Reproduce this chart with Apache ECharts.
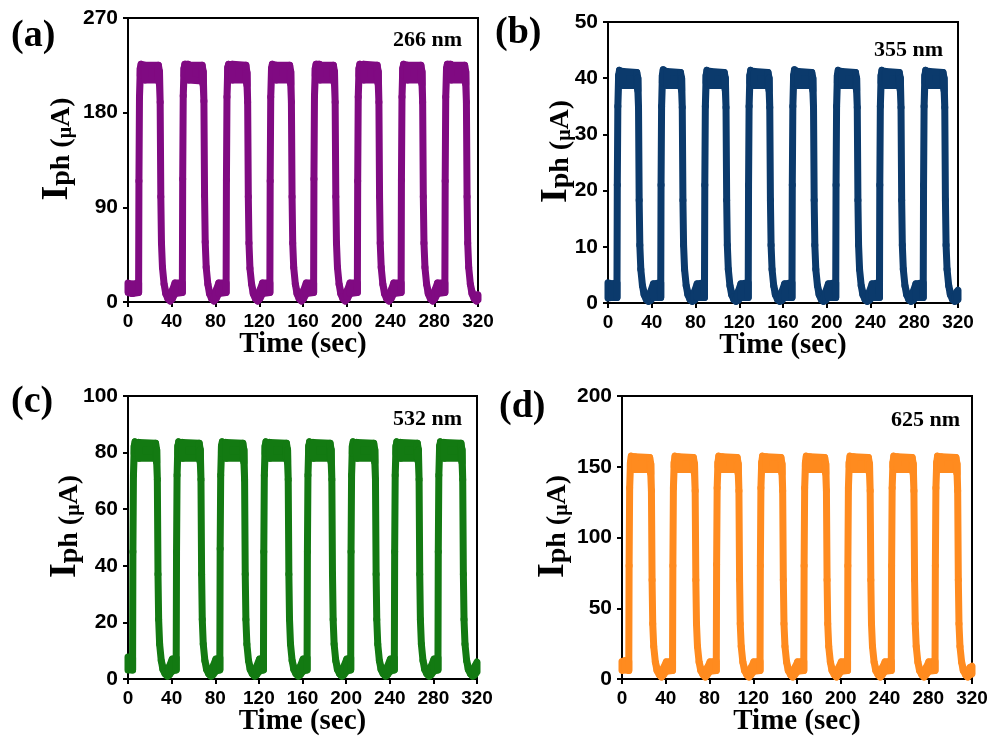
<!DOCTYPE html>
<html>
<head>
<meta charset="utf-8">
<script src="https://cdn.jsdelivr.net/npm/echarts@6/dist/echarts.min.js"></script>
<style>
  html, body { margin: 0; padding: 0; background: #fff; }
  #chart { width: 991px; height: 740px; }
</style>
</head>
<body>
<div id="chart"></div>
<script>
// 四个波长下的光电流开关响应：每个点为 [时间(s), 噪声带上沿, 噪声带下沿]
const panelLetters = ['(a)', '(b)', '(c)', '(d)']
const wavelengths = ['266 nm', '355 nm', '532 nm', '625 nm']
const timeTicks = [0, 320, 40]
const yMax = [270, 50, 100, 200]
const yStep = [90, 10, 20, 50]

const trace266 = [
  [0, 18, 9], [4, 17, 8],
  [9.7, 18, 9], [10, 115, 115], [10.5, 195, 195], [11.2, 222, 215], [12, 226, 216], [15, 225, 216], [15.4, 225, 211], [27.8, 225, 211], [28.8, 219, 207], [29.4, 190, 190], [30, 100, 100], [30.6, 56, 56], [31.5, 33, 33], [33, 17, 17], [34.5, 10, 8], [36.5, 5, 3], [38.5, 3, 1], [40.5, 11, 3], [43, 18, 8],
  [49.7, 18, 9], [50, 117, 117], [50.5, 196, 196], [51.2, 222, 215], [52, 226, 216], [55, 226, 216], [55.4, 225, 211], [67.8, 225, 210], [68.8, 219, 206], [69.4, 191, 191], [70, 101, 101], [70.6, 57, 57], [71.5, 33, 33], [73, 17, 17], [74.5, 10, 8], [76.5, 5, 3], [78.5, 3, 1], [80.5, 11, 3], [83, 18, 8],
  [89.7, 18, 9], [90, 116, 116], [90.5, 195, 195], [91.2, 223, 215], [92, 226, 216], [95, 225, 216], [95.4, 226, 211], [107.8, 225, 211], [108.8, 218, 206], [109.4, 190, 190], [110, 100, 100], [110.6, 56, 56], [111.5, 32, 32], [113, 17, 17], [114.5, 10, 8], [116.5, 5, 3], [118.5, 3, 1], [120.5, 11, 3], [123, 18, 8],
  [129.7, 18, 9], [130, 115, 115], [130.5, 195, 195], [131.2, 222, 215], [132, 226, 216], [135, 225, 216], [135.4, 225, 211], [147.8, 225, 211], [148.8, 219, 207], [149.4, 190, 190], [150, 100, 100], [150.6, 56, 56], [151.5, 33, 33], [153, 17, 17], [154.5, 10, 8], [156.5, 5, 3], [158.5, 3, 1], [160.5, 11, 3], [163, 18, 8],
  [169.7, 18, 9], [170, 117, 117], [170.5, 196, 196], [171.2, 222, 215], [172, 226, 216], [175, 226, 216], [175.4, 225, 211], [187.8, 225, 211], [188.8, 219, 207], [189.4, 190, 190], [190, 100, 100], [190.6, 56, 56], [191.5, 33, 33], [193, 17, 17], [194.5, 10, 8], [196.5, 5, 3], [198.5, 3, 1], [200.5, 11, 3], [203, 18, 8],
  [209.7, 18, 9], [210, 115, 115], [210.5, 195, 195], [211.2, 222, 215], [212, 226, 216], [215, 225, 216], [215.4, 226, 211], [227.8, 225, 211], [228.8, 219, 207], [229.4, 190, 190], [230, 100, 100], [230.6, 56, 56], [231.5, 33, 33], [233, 17, 17], [234.5, 10, 8], [236.5, 5, 3], [238.5, 3, 1], [240.5, 11, 3], [243, 18, 8],
  [249.7, 18, 9], [250, 116, 116], [250.5, 195, 195], [251.2, 222, 215], [252, 226, 216], [255, 225, 216], [255.4, 225, 211], [267.8, 225, 211], [268.8, 219, 207], [269.4, 190, 190], [270, 100, 100], [270.6, 56, 56], [271.5, 33, 33], [273, 17, 17], [274.5, 10, 8], [276.5, 5, 3], [278.5, 3, 1], [280.5, 11, 3], [283, 18, 8],
  [289.7, 18, 9], [290, 115, 115], [290.5, 195, 195], [291.2, 222, 215], [292, 226, 216], [295, 226, 216], [295.4, 225, 211], [307.8, 225, 211], [308.8, 219, 207], [309.4, 190, 190], [310, 100, 100], [310.6, 56, 56], [311.5, 33, 33], [313, 17, 17], [314.5, 10, 8], [316.5, 5, 3], [318.5, 3, 1], [320, 7, 2]
]

const trace355 = [
  [0, 3.6, 0.9], [4, 3.4, 1.0],
  [8.2, 3.6, 1.0], [8.5, 21, 21], [9, 35, 35], [9.7, 40.5, 39.2], [10.5, 41.4, 39.4], [13.5, 41.0, 39.3], [13.9, 41.2, 38.7], [26.3, 41.0, 38.7], [27.3, 40.0, 37.8], [27.9, 34.8, 34.8], [28.5, 18.3, 18.3], [29.1, 10.3, 10.3], [30, 6.0, 6.0], [31.5, 3.1, 3.1], [33, 1.9, 1.5], [35, 1.1, 0.6], [37, 0.8, 0.3], [39, 2.0, 0.5], [41.5, 3.4, 1.0],
  [48.2, 3.6, 1.0], [48.5, 21, 21], [49, 35, 35], [49.7, 40.5, 39.2], [50.5, 41.5, 39.4], [53.5, 41.0, 39.3], [53.9, 41.2, 38.7], [66.3, 41.0, 38.7], [67.3, 40.0, 37.8], [67.9, 34.8, 34.8], [68.5, 18.3, 18.3], [69.1, 10.3, 10.3], [70, 6.0, 6.0], [71.5, 3.1, 3.1], [73, 1.9, 1.5], [75, 1.1, 0.6], [77, 0.8, 0.3], [79, 2.0, 0.5], [81.5, 3.4, 1.0],
  [88.2, 3.6, 1.0], [88.5, 21, 21], [89, 35, 35], [89.7, 40.5, 39.2], [90.5, 41.4, 39.4], [93.5, 41.1, 39.3], [93.9, 41.2, 38.7], [106.3, 41.0, 38.7], [107.3, 40.0, 37.8], [107.9, 34.8, 34.8], [108.5, 18.3, 18.3], [109.1, 10.3, 10.3], [110, 6.0, 6.0], [111.5, 3.1, 3.1], [113, 1.9, 1.5], [115, 1.1, 0.6], [117, 0.8, 0.3], [119, 2.0, 0.5], [121.5, 3.4, 1.0],
  [128.2, 3.6, 1.0], [128.5, 21, 21], [129, 35, 35], [129.7, 40.5, 39.2], [130.5, 41.4, 39.4], [133.5, 41.0, 39.3], [133.9, 41.2, 38.7], [146.3, 41.0, 38.7], [147.3, 40.0, 37.8], [147.9, 34.8, 34.8], [148.5, 18.3, 18.3], [149.1, 10.3, 10.3], [150, 6.0, 6.0], [151.5, 3.1, 3.1], [153, 1.9, 1.5], [155, 1.1, 0.6], [157, 0.8, 0.3], [159, 2.0, 0.5], [161.5, 3.4, 1.0],
  [168.2, 3.6, 1.0], [168.5, 21, 21], [169, 35, 35], [169.7, 40.5, 39.2], [170.5, 41.5, 39.4], [173.5, 41.0, 39.3], [173.9, 41.2, 38.7], [186.3, 41.0, 38.7], [187.3, 40.0, 37.8], [187.9, 34.8, 34.8], [188.5, 18.3, 18.3], [189.1, 10.3, 10.3], [190, 6.0, 6.0], [191.5, 3.1, 3.1], [193, 1.9, 1.5], [195, 1.1, 0.6], [197, 0.8, 0.3], [199, 2.0, 0.5], [201.5, 3.4, 1.0],
  [208.2, 3.6, 1.0], [208.5, 21, 21], [209, 35, 35], [209.7, 40.5, 39.2], [210.5, 41.4, 39.4], [213.5, 41.0, 39.3], [213.9, 41.2, 38.7], [226.3, 41.0, 38.7], [227.3, 40.0, 37.8], [227.9, 34.8, 34.8], [228.5, 18.3, 18.3], [229.1, 10.3, 10.3], [230, 6.0, 6.0], [231.5, 3.1, 3.1], [233, 1.9, 1.5], [235, 1.1, 0.6], [237, 0.8, 0.3], [239, 2.0, 0.5], [241.5, 3.4, 1.0],
  [248.2, 3.6, 1.0], [248.5, 21, 21], [249, 35, 35], [249.7, 40.5, 39.2], [250.5, 41.4, 39.4], [253.5, 41.0, 39.3], [253.9, 41.2, 38.7], [266.3, 41.0, 38.7], [267.3, 40.0, 37.8], [267.9, 34.8, 34.8], [268.5, 18.3, 18.3], [269.1, 10.3, 10.3], [270, 6.0, 6.0], [271.5, 3.1, 3.1], [273, 1.9, 1.5], [275, 1.1, 0.6], [277, 0.8, 0.3], [279, 2.0, 0.5], [281.5, 3.4, 1.0],
  [288.2, 3.6, 1.0], [288.5, 21, 21], [289, 35, 35], [289.7, 40.5, 39.2], [290.5, 41.4, 39.4], [293.5, 41.0, 39.3], [293.9, 41.2, 38.7], [306.3, 41.0, 38.7], [307.3, 40.0, 37.8], [307.9, 34.8, 34.8], [308.5, 18.3, 18.3], [309.1, 10.3, 10.3], [310, 6.0, 6.0], [311.5, 3.1, 3.1], [313, 1.9, 1.5], [315, 1.1, 0.6], [317, 0.8, 0.3], [319, 2.0, 0.5], [320, 2.3, 0.6]
]

const trace532 = [
  [0, 7.8, 3.2],
  [4.2, 7.5, 3.2], [4.5, 45, 45], [5, 72, 72], [5.7, 82.3, 79.7], [6.5, 83.8, 79.7], [9.5, 83.3, 79.7], [9.9, 83.6, 78], [25.3, 83.3, 78], [26.3, 81, 76.5], [26.9, 70.5, 70.5], [27.5, 37, 37], [28.1, 21, 21], [29, 12.3, 12.3], [30.5, 6.5, 6.5], [32, 4.2, 3.4], [34, 2.6, 1.8], [36, 2, 1], [38, 4.5, 1.5], [40.5, 7, 2.8],
  [44.2, 7.5, 3.2], [44.5, 45, 45], [45, 72, 72], [45.7, 82.3, 79.7], [46.5, 83.8, 79.7], [49.5, 83.3, 79.7], [49.9, 83.6, 78], [65.3, 83.3, 78], [66.3, 81, 76.5], [66.9, 70.5, 70.5], [67.5, 37, 37], [68.1, 21, 21], [69, 12.3, 12.3], [70.5, 6.5, 6.5], [72, 4.2, 3.4], [74, 2.6, 1.8], [76, 2, 1], [78, 4.5, 1.5], [80.5, 7, 2.8],
  [84.2, 7.5, 3.2], [84.5, 46, 46], [85, 72, 72], [85.7, 82.3, 79.7], [86.5, 83.8, 79.7], [89.5, 83.3, 79.7], [89.9, 83.6, 78], [105.3, 83.3, 78], [106.3, 81, 76.5], [106.9, 70.5, 70.5], [107.5, 37, 37], [108.1, 21, 21], [109, 12.3, 12.3], [110.5, 6.5, 6.5], [112, 4.2, 3.4], [114, 2.6, 1.8], [116, 2, 1], [118, 4.5, 1.5], [120.5, 7, 2.8],
  [124.2, 7.5, 3.2], [124.5, 45, 45], [125, 72, 72], [125.7, 82.3, 79.7], [126.5, 83.8, 79.7], [129.5, 83.3, 79.7], [129.9, 83.6, 78], [145.3, 83.3, 78], [146.3, 81, 76.5], [146.9, 70.5, 70.5], [147.5, 37, 37], [148.1, 21, 21], [149, 12.3, 12.3], [150.5, 6.5, 6.5], [152, 4.2, 3.4], [154, 2.6, 1.8], [156, 2, 1], [158, 4.5, 1.5], [160.5, 7, 2.8],
  [164.2, 7.5, 3.2], [164.5, 45, 45], [165, 72, 72], [165.7, 82.3, 79.7], [166.5, 83.8, 79.7], [169.5, 83.3, 79.7], [169.9, 83.6, 78], [185.3, 83.3, 78], [186.3, 81, 76.5], [186.9, 70.5, 70.5], [187.5, 37, 37], [188.1, 21, 21], [189, 12.3, 12.3], [190.5, 6.5, 6.5], [192, 4.2, 3.4], [194, 2.6, 1.8], [196, 2, 1], [198, 4.5, 1.5], [200.5, 7, 2.8],
  [204.2, 7.5, 3.2], [204.5, 45, 45], [205, 72, 72], [205.7, 82.3, 79.7], [206.5, 83.8, 79.7], [209.5, 83.3, 79.7], [209.9, 83.6, 78], [225.3, 83.3, 78], [226.3, 81, 76.5], [226.9, 70.5, 70.5], [227.5, 37, 37], [228.1, 21, 21], [229, 12.3, 12.3], [230.5, 6.5, 6.5], [232, 4.2, 3.4], [234, 2.6, 1.8], [236, 2, 1], [238, 4.5, 1.5], [240.5, 7, 2.8],
  [244.2, 7.5, 3.2], [244.5, 45, 45], [245, 72, 72], [245.7, 82.3, 79.7], [246.5, 83.8, 79.7], [249.5, 83.3, 79.7], [249.9, 83.6, 78], [265.3, 83.3, 78], [266.3, 81, 76.5], [266.9, 70.5, 70.5], [267.5, 37, 37], [268.1, 21, 21], [269, 12.3, 12.3], [270.5, 6.5, 6.5], [272, 4.2, 3.4], [274, 2.6, 1.8], [276, 2, 1], [278, 4.5, 1.5], [280.5, 7, 2.8],
  [284.2, 7.5, 3.2], [284.5, 45, 45], [285, 72, 72], [285.7, 82.3, 79.7], [286.5, 83.8, 79.7], [289.5, 83.3, 79.7], [289.9, 83.6, 78], [305.3, 83.3, 78], [306.3, 81, 76.5], [306.9, 70.5, 70.5], [307.5, 37, 37], [308.1, 21, 21], [309, 12.3, 12.3], [310.5, 6.5, 6.5], [312, 4.2, 3.4], [314, 2.6, 1.8], [316, 2, 1], [318, 4.5, 1.5], [320, 6, 2.5]
]

const trace625 = [
  [0, 12.5, 6], [3, 13, 6.5],
  [6.2, 12.5, 6], [6.5, 80, 80], [7, 135, 135], [7.7, 153, 150], [8.5, 157.5, 150.5], [11.5, 156.5, 150.5], [11.9, 157, 148], [25.3, 156.5, 148], [26.3, 152, 145], [26.9, 133, 133], [27.5, 70, 70], [28.1, 39, 39], [29, 23, 23], [30.5, 12, 12], [32, 7.5, 6], [34, 4.5, 3], [36, 3, 1.5], [38, 8, 3], [40.5, 12, 5.5],
  [46.2, 12.5, 6], [46.5, 80, 80], [47, 135, 135], [47.7, 153, 150], [48.5, 157.5, 150.5], [51.5, 156.5, 150.5], [51.9, 157, 148], [65.3, 156.5, 148], [66.3, 152, 145], [66.9, 133, 133], [67.5, 70, 70], [68.1, 39, 39], [69, 23, 23], [70.5, 12, 12], [72, 7.5, 6], [74, 4.5, 3], [76, 3, 1.5], [78, 8, 3], [80.5, 12, 5.5],
  [86.2, 12.5, 6], [86.5, 81, 81], [87, 135, 135], [87.7, 153, 150], [88.5, 157.5, 150.5], [91.5, 156.5, 150.5], [91.9, 157, 148], [105.3, 156.5, 148], [106.3, 152, 145], [106.9, 133, 133], [107.5, 70, 70], [108.1, 39, 39], [109, 23, 23], [110.5, 12, 12], [112, 7.5, 6], [114, 4.5, 3], [116, 3, 1.5], [118, 8, 3], [120.5, 12, 5.5],
  [126.2, 12.5, 6], [126.5, 80, 80], [127, 135, 135], [127.7, 153, 150], [128.5, 157.5, 150.5], [131.5, 156.5, 150.5], [131.9, 157, 148], [145.3, 156.5, 148], [146.3, 152, 145], [146.9, 133, 133], [147.5, 70, 70], [148.1, 39, 39], [149, 23, 23], [150.5, 12, 12], [152, 7.5, 6], [154, 4.5, 3], [156, 3, 1.5], [158, 8, 3], [160.5, 12, 5.5],
  [166.2, 12.5, 6], [166.5, 80, 80], [167, 135, 135], [167.7, 153, 150], [168.5, 157.5, 150.5], [171.5, 156.5, 150.5], [171.9, 157, 148], [185.3, 156.5, 148], [186.3, 152, 145], [186.9, 133, 133], [187.5, 70, 70], [188.1, 39, 39], [189, 23, 23], [190.5, 12, 12], [192, 7.5, 6], [194, 4.5, 3], [196, 3, 1.5], [198, 8, 3], [200.5, 12, 5.5],
  [206.2, 12.5, 6], [206.5, 80, 80], [207, 135, 135], [207.7, 153, 150], [208.5, 157.5, 150.5], [211.5, 156.5, 150.5], [211.9, 157, 148], [225.3, 156.5, 148], [226.3, 152, 145], [226.9, 133, 133], [227.5, 70, 70], [228.1, 39, 39], [229, 23, 23], [230.5, 12, 12], [232, 7.5, 6], [234, 4.5, 3], [236, 3, 1.5], [238, 8, 3], [240.5, 12, 5.5],
  [246.2, 12.5, 6], [246.5, 80, 80], [247, 135, 135], [247.7, 153, 150], [248.5, 157.5, 150.5], [251.5, 156.5, 150.5], [251.9, 157, 148], [265.3, 156.5, 148], [266.3, 152, 145], [266.9, 133, 133], [267.5, 70, 70], [268.1, 39, 39], [269, 23, 23], [270.5, 12, 12], [272, 7.5, 6], [274, 4.5, 3], [276, 3, 1.5], [278, 8, 3], [280.5, 12, 5.5],
  [286.2, 12.5, 6], [286.5, 80, 80], [287, 135, 135], [287.7, 153, 150], [288.5, 157.5, 150.5], [291.5, 156.5, 150.5], [291.9, 157, 148], [305.3, 156.5, 148], [306.3, 152, 145], [306.9, 133, 133], [307.5, 70, 70], [308.1, 39, 39], [309, 23, 23], [310.5, 12, 12], [312, 7.5, 6], [314, 4.5, 3], [316, 3, 1.5], [318, 8, 3], [320, 9, 3.5]
]

const traces = [trace266, trace355, trace532, trace625]

// 版面：每个子图的网格位置、颜色与文字位置
const layout = [
  { left: 128, top: 18, width: 350, height: 284, color: '#800a82', nameGap: 52, letter: [11, 36], tag: [462, 40] },
  { left: 608, top: 22, width: 350, height: 281, color: '#0b3a6c', nameGap: 33, letter: [495, 33], tag: [943, 50] },
  { left: 128, top: 396, width: 349, height: 283, color: '#137a12', nameGap: 44, letter: [11, 402], tag: [462, 419] },
  { left: 622, top: 396, width: 350, height: 283, color: '#ff8b1f', nameGap: 50, letter: [499, 407], tag: [960, 420] }
]

const SERIF = '"Liberation Serif", "Times New Roman", serif'
const SANS = '"Liberation Sans", Arial, sans-serif'

function toSegments(trace) {
  const segs = []
  for (let i = 0; i < trace.length - 1; i++) {
    const a = trace[i]
    const b = trace[i + 1]
    segs.push([a[0], a[1], a[2], b[0], b[1], b[2]])
  }
  return segs
}

// 噪声带：上沿和下沿之间填色，再用粗描边模拟原图中粗线迹
function bandSeries(idx) {
  const color = layout[idx].color
  return {
    type: 'custom',
    xAxisIndex: idx,
    yAxisIndex: idx,
    silent: true,
    data: toSegments(traces[idx]),
    encode: { x: [0, 3], y: [1, 2, 4, 5] },
    renderItem: (params, api) => {
      const p0 = api.coord([api.value(0), api.value(1)])
      const p1 = api.coord([api.value(3), api.value(4)])
      const p2 = api.coord([api.value(3), api.value(5)])
      const p3 = api.coord([api.value(0), api.value(2)])
      return {
        type: 'polygon',
        shape: { points: [p0, p1, p2, p3] },
        style: { fill: color, stroke: color, lineWidth: 7, lineJoin: 'round' }
      }
    }
  }
}

const axisLineStyle = { color: '#000', width: 2 }
const tickLabel = { color: '#000', fontFamily: SANS, fontWeight: 'bold' }

const option = {
  backgroundColor: '#fff',
  animation: false,
  grid: layout.map((g) => ({
    left: g.left, top: g.top, width: g.width, height: g.height,
    containLabel: false, outerBoundsMode: 'none',
    show: true, borderColor: '#000', borderWidth: 2, backgroundColor: 'transparent'
  })),
  xAxis: layout.map((g, i) => ({
    gridIndex: i,
    type: 'value',
    min: timeTicks[0],
    max: timeTicks[1],
    interval: timeTicks[2],
    axisLine: { show: true, onZero: false, lineStyle: axisLineStyle },
    axisTick: { show: true, inside: false, length: 5, lineStyle: axisLineStyle },
    axisLabel: { ...tickLabel, fontSize: 19, margin: 10 },
    splitLine: { show: false },
    name: 'Time (sec)',
    nameLocation: 'middle',
    nameGap: 28,
    nameMoveOverlap: false,
    nameTextStyle: { color: '#000', fontFamily: SERIF, fontWeight: 'bold', fontSize: 29, verticalAlign: 'top' }
  })),
  yAxis: layout.map((g, i) => ({
    gridIndex: i,
    type: 'value',
    min: 0,
    max: yMax[i],
    interval: yStep[i],
    axisLine: { show: true, onZero: false, lineStyle: axisLineStyle },
    axisTick: { show: true, inside: false, length: 5, lineStyle: axisLineStyle },
    axisLabel: { ...tickLabel, fontSize: 21, margin: 10 },
    splitLine: { show: false },
    name: '{i|I}{s|ph}{u| (}{m|μ}{u|A)}',
    nameLocation: 'middle',
    nameRotate: 90,
    nameGap: g.nameGap,
    nameMoveOverlap: false,
    nameTextStyle: {
      color: '#000',
      padding: [0, 0, 0, 22],
      rich: {
        i: { fontFamily: SERIF, fontWeight: 'bold', fontSize: 38, lineHeight: 36, verticalAlign: 'bottom', color: '#000' },
        s: { fontFamily: SERIF, fontWeight: 'bold', fontSize: 28, lineHeight: 27, verticalAlign: 'bottom', color: '#000' },
        u: { fontFamily: SERIF, fontWeight: 'bold', fontSize: 28, lineHeight: 31, verticalAlign: 'bottom', color: '#000' },
        m: { fontFamily: SERIF, fontWeight: 'bold', fontSize: 20, lineHeight: 28, verticalAlign: 'bottom', color: '#000' }
      }
    }
  })),
  graphic: layout.flatMap((g, i) => [
    {
      type: 'text',
      x: g.letter[0],
      y: g.letter[1],
      silent: true,
      style: { text: panelLetters[i], fill: '#000', font: 'bold 38px ' + SERIF, align: 'left', verticalAlign: 'middle' }
    },
    {
      type: 'text',
      x: g.tag[0],
      y: g.tag[1],
      silent: true,
      style: { text: wavelengths[i], fill: '#000', font: 'bold 22px ' + SERIF, align: 'right', verticalAlign: 'middle' }
    }
  ]),
  series: layout.map((g, i) => bandSeries(i))
}

const chart = echarts.init(document.getElementById('chart'), null, { renderer: 'canvas' })
chart.setOption(option)
window.addEventListener('resize', () => chart.resize())
</script>
</body>
</html>
